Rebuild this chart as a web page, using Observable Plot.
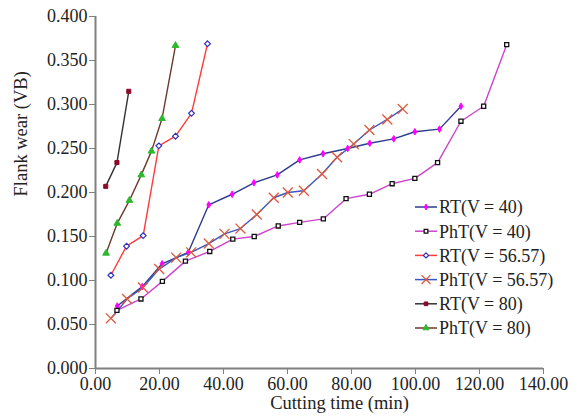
<!DOCTYPE html>
<html>
<head>
<meta charset="utf-8">
<script src="https://cdn.jsdelivr.net/npm/d3@7"></script>
<script src="https://cdn.jsdelivr.net/npm/@observablehq/plot@0.6"></script>
<style>
  html, body { margin: 0; padding: 0; background: #fff; }
  #chart { width: 579px; height: 419px; }
  #chart svg, #chart svg text { font-family: "Liberation Serif", "Times New Roman", serif !important; }
</style>
</head>
<body>
<div id="chart"></div>
<script>
// ---- Data ----
const xTicks = [0, 20, 40, 60, 80, 100, 120, 140];
const yTicks = [0, 0.05, 0.1, 0.15, 0.2, 0.25, 0.3, 0.35, 0.4];

const seriesNames = ["RT(V = 40)", "PhT(V = 40)", "RT(V = 56.57)", "PhT(V = 56.57)", "RT(V = 80)", "PhT(V = 80)"];

const rt40_t  = [6.8, 14.6, 20.8, 29.0, 35.4, 42.7, 49.5, 56.8, 63.8, 71.1, 78.8, 85.7, 93.2, 99.8, 107.5, 114.2];
const rt40_vb = [0.071, 0.093, 0.119, 0.132, 0.186, 0.198, 0.211, 0.220, 0.237, 0.244, 0.250, 0.256, 0.261, 0.269, 0.272, 0.298];

const pht40_t  = [6.7, 14.2, 20.9, 28.1, 35.7, 42.9, 49.6, 57.1, 63.8, 71.2, 78.3, 85.6, 92.7, 99.8, 106.9, 114.2, 121.3, 128.5];
const pht40_vb = [0.066, 0.079, 0.099, 0.122, 0.133, 0.147, 0.150, 0.162, 0.166, 0.170, 0.193, 0.198, 0.210, 0.216, 0.234, 0.281, 0.298, 0.368];

const rt57_t  = [4.8, 9.7, 14.9, 19.8, 25.0, 30.0, 35.0];
const rt57_vb = [0.106, 0.139, 0.151, 0.253, 0.264, 0.290, 0.369];

const pht57_t  = [4.8, 9.9, 14.8, 19.9, 25.2, 29.9, 35.4, 40.3, 45.3, 50.4, 55.7, 60.1, 65.1, 70.8, 75.5, 80.7, 85.6, 91.2, 96.0];
const pht57_vb = [0.057, 0.079, 0.092, 0.113, 0.126, 0.132, 0.142, 0.153, 0.159, 0.175, 0.194, 0.200, 0.202, 0.221, 0.240, 0.255, 0.271, 0.283, 0.295];

const rt80_t  = [3.2, 6.7, 10.4];
const rt80_vb = [0.207, 0.234, 0.315];

const pht80_t  = [3.3, 6.8, 10.6, 14.3, 17.5, 20.8, 25.0];
const pht80_vb = [0.131, 0.165, 0.191, 0.220, 0.247, 0.284, 0.367];

// ---- Styles ----
const styles = [
  {line: "#2e3a8e", symbol: "diamond",  r: 2.0, fill: "#ff00ff", stroke: "#ff00ff", sw: 1},
  {line: "#cc44cc", symbol: "square",   r: 2.3, fill: "#ffffff", stroke: "#111111", sw: 1.3},
  {line: "#ff3b3b", symbol: "diamond2", r: 2.6, fill: "#ffffff", stroke: "#3030c0", sw: 1.2},
  {line: "#3a56c0", symbol: "times",    r: 4.6, fill: "none",    stroke: "#e0583a", sw: 1.3},
  {line: "#333333", symbol: "square",   r: 2.3, fill: "#8b0a2a", stroke: "#8b0a2a", sw: 1},
  {line: "#6b3a2a", symbol: "triangle", r: 2.5, fill: "#2eb82e", stroke: "#2eb82e", sw: 1}
];

const raw = [[rt40_t, rt40_vb], [pht40_t, pht40_vb], [rt57_t, rt57_vb], [pht57_t, pht57_vb], [rt80_t, rt80_vb], [pht80_t, pht80_vb]];
const series = raw.map(([t, vb], i) => t.map((x, j) => ({name: seriesNames[i], t: x, vb: vb[j]})));

const font = "'Liberation Serif', 'Times New Roman', serif";
const FS = 18;
const marks = [
  Plot.axisX({ticks: xTicks, tickFormat: d => d.toFixed(2), tickSize: 6, tickPadding: 3, fontSize: FS, label: null, stroke: "#808080", color: "#222"}),
  Plot.axisY({ticks: yTicks, tickFormat: d => d.toFixed(3), tickSize: 6, tickPadding: 2, fontSize: FS, label: null, stroke: "#808080", color: "#222"}),
  Plot.ruleY([0], {stroke: "#808080", strokeWidth: 2}),
  Plot.ruleX([0], {stroke: "#808080", strokeWidth: 2})
];
series.forEach((d, i) => {
  const s = styles[i];
  marks.push(Plot.line(d, {x: "t", y: "vb", stroke: s.line, strokeWidth: 1.4}));
});
series.forEach((d, i) => {
  const s = styles[i];
  marks.push(Plot.dot(d, {x: "t", y: "vb", symbol: () => s.symbol, r: s.r, fill: s.fill, stroke: s.stroke, strokeWidth: s.sw}));
});
marks.push(Plot.text(["Flank wear (VB)"], {frameAnchor: "left", dx: -74, dy: 4, rotate: -90, fontSize: 18.5, fill: "#222"}));
marks.push(Plot.text(["Cutting time (min)"], {frameAnchor: "bottom", dx: 20, dy: 40, fontSize: 18.5, fill: "#222"}));

const chart = Plot.plot({
  width: 579,
  height: 419,
  marginLeft: 95,
  marginRight: 36,
  marginTop: 16,
  marginBottom: 51,
  style: {fontFamily: font, fontSize: FS + "px", background: "#fff", color: "#222"},
  x: {domain: [0, 140]},
  y: {domain: [0, 0.4]},
  symbol: {type: "identity"},
  marks
});
document.getElementById("chart").appendChild(chart);

// ---- Legend drawn inside the SVG ----
const svg = d3.select(chart);
const symMap = {diamond: d3.symbolDiamond, square: d3.symbolSquare, diamond2: d3.symbolDiamond2, times: d3.symbolTimes, triangle: d3.symbolTriangle};
const lg = svg.append("g").attr("transform", "translate(415,207)").attr("text-anchor", "start");
seriesNames.forEach((name, i) => {
  const s = styles[i];
  const g = lg.append("g").attr("transform", `translate(0,${i * 24.2})`);
  g.append("line").attr("x1", 0).attr("x2", 22).attr("y1", 0).attr("y2", 0)
    .attr("stroke", s.line).attr("stroke-width", 1.5);
  g.append("path").attr("transform", "translate(11,0)")
    .attr("d", d3.symbol(symMap[s.symbol], Math.PI * (s.r * 0.9) ** 2)())
    .attr("fill", s.fill).attr("stroke", s.stroke).attr("stroke-width", s.sw);
  g.append("text").attr("x", 24).attr("y", 0).attr("dy", "0.35em")
    .attr("text-anchor", "start")
    .attr("font-size", FS).attr("fill", "#222").text(name);
});
</script>
</body>
</html>
